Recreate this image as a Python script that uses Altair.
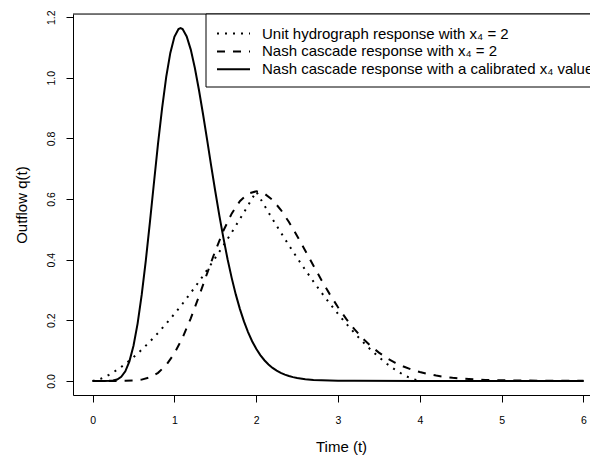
import altair as alt
import pandas as pd

FONT = "Liberation Sans"

# ---- data -------------------------------------------------------------
t_uh = [0.0, 0.1, 0.2, 0.3, 0.4, 0.5, 0.6, 0.7, 0.8, 0.9, 1.0,
        1.1, 1.2, 1.3, 1.4, 1.5, 1.6, 1.7, 1.8, 1.9, 2.0,
        2.1, 2.2, 2.3, 2.4, 2.5, 2.6, 2.7, 2.8, 2.9, 3.0,
        3.1, 3.2, 3.3, 3.4, 3.5, 3.6, 3.7, 3.8, 3.9, 4.0, 5.0, 6.0]
q_uh = [0.0, 0.0070, 0.0198, 0.0363, 0.0559, 0.0781, 0.1027, 0.1294, 0.1581, 0.1887, 0.2210,
        0.2549, 0.2905, 0.3275, 0.3660, 0.4059, 0.4472, 0.4898, 0.5336, 0.5787, 0.6250,
        0.5787, 0.5336, 0.4898, 0.4472, 0.4059, 0.3660, 0.3275, 0.2905, 0.2549, 0.2210,
        0.1887, 0.1581, 0.1294, 0.1027, 0.0781, 0.0559, 0.0363, 0.0198, 0.0070, 0.0, 0.0, 0.0]

t_nash = [0.0, 0.1, 0.2, 0.3, 0.4, 0.5, 0.6, 0.7, 0.8, 0.9, 1.0,
          1.1, 1.2, 1.3, 1.4, 1.5, 1.6, 1.7, 1.8, 1.9, 2.0,
          2.1, 2.2, 2.3, 2.4, 2.5, 2.6, 2.7, 2.8, 2.9, 3.0,
          3.1, 3.2, 3.3, 3.4, 3.5, 3.6, 3.7, 3.8, 3.9, 4.0,
          4.1, 4.2, 4.3, 4.4, 4.5, 4.6, 4.7, 4.8, 4.9, 5.0, 5.5, 6.0]
q_nash = [0.0, 0.0, 0.0, 0.0, 0.0002, 0.0011, 0.0041, 0.0115, 0.0265, 0.0521, 0.0907,
          0.1426, 0.2065, 0.2789, 0.3549, 0.4292, 0.4963, 0.5519, 0.5929, 0.6175, 0.6256,
          0.6180, 0.5969, 0.5647, 0.5242, 0.4782, 0.4294, 0.3798, 0.3314, 0.2855, 0.2431,
          0.2046, 0.1705, 0.1406, 0.1150, 0.0932, 0.0749, 0.0598, 0.0473, 0.0372, 0.0291,
          0.0226, 0.0174, 0.0134, 0.0102, 0.0078, 0.0059, 0.0044, 0.0033, 0.0025, 0.0018,
          0.0004, 0.0001]

t_cal = [0.0, 0.05, 0.10, 0.15, 0.20, 0.25, 0.30, 0.35, 0.40, 0.45, 0.50,
         0.55, 0.60, 0.65, 0.70, 0.75, 0.80, 0.85, 0.90, 0.95, 1.00,
         1.05, 1.075, 1.10, 1.15, 1.20, 1.25, 1.30, 1.35, 1.40, 1.45, 1.50,
         1.55, 1.60, 1.65, 1.70, 1.75, 1.80, 1.85, 1.90, 1.95, 2.00,
         2.05, 2.10, 2.15, 2.20, 2.25, 2.30, 2.35, 2.40, 2.45, 2.50,
         2.6, 2.7, 2.8, 2.9, 3.0, 3.2, 4.0, 5.0, 6.0]
q_cal = [0.0, 0.0, 0.0, 0.0, 0.0002, 0.0012, 0.0045, 0.0132, 0.0316, 0.0644, 0.1160,
         0.1890, 0.2834, 0.3962, 0.5221, 0.6538, 0.7835, 0.9012, 1.0030, 1.0822, 1.1354,
         1.1607, 1.1640, 1.1607, 1.1366, 1.0931, 1.0325, 0.9598, 0.8798, 0.7953, 0.7089, 0.6250,
         0.5444, 0.4700, 0.4013, 0.3399, 0.2854, 0.2376, 0.1963, 0.1609, 0.1309, 0.1059,
         0.0852, 0.0681, 0.0541, 0.0428, 0.0336, 0.0263, 0.0205, 0.0159, 0.0123, 0.0094,
         0.0055, 0.0032, 0.0018, 0.0010, 0.0005, 0.0001, 0.0, 0.0, 0.0]

x_ticks = [0, 1, 2, 3, 4, 5, 6]
y_ticks = [0.0, 0.2, 0.4, 0.6, 0.8, 1.0, 1.2]

legend_labels = [
    "Unit hydrograph response with x\u2084 = 2",
    "Nash cascade response with x\u2084 = 2",
    "Nash cascade response with a calibrated x\u2084 value",
]

W, H = 517, 381

# ---- encodings --------------------------------------------------------
x_enc = alt.X(
    "t:Q",
    scale=alt.Scale(domain=[-0.2396, 6.08], nice=False, zero=False),
    axis=alt.Axis(
        values=x_ticks, format="d", title="Time (t)", grid=False,
        domain=True, domainColor="black", domainWidth=1,
        tickSize=7, tickColor="black", tickWidth=1,
        labelFont=FONT, labelFontSize=10.5, labelColor="black",
        labelBaseline="alphabetic", labelPadding=21.5, labelFlush=False,
        labelOverlap=False,
        titleFont=FONT, titleFontSize=15, titleFontWeight="normal", titleColor="black",
        titleX=268, titleY=56, titleAlign="center", titleBaseline="alphabetic",
    ),
)
y_enc = alt.Y(
    "q:Q",
    scale=alt.Scale(domain=[-0.0466, 1.2106], nice=False, zero=False),
    axis=alt.Axis(
        values=y_ticks, format=".1f", title="Outflow q(t)", grid=False,
        domain=True, domainColor="black", domainWidth=1,
        tickSize=7, tickColor="black", tickWidth=1,
        labelFont=FONT, labelFontSize=10.5, labelColor="black",
        labelAngle=270, labelAlign="center", labelBaseline="alphabetic",
        labelPadding=11.5, labelFlush=False, labelOverlap=False,
        titleFont=FONT, titleFontSize=15, titleFontWeight="normal", titleColor="black",
        titleAngle=270, titleX=-47, titleY=190.6, titleAlign="center",
        titleBaseline="alphabetic",
    ),
)

uh = alt.Chart(pd.DataFrame({"t": t_uh, "q": q_uh})).mark_line(
    color="black", strokeWidth=2, strokeDash=[2, 6]
).encode(x=x_enc, y=y_enc)

nash = alt.Chart(pd.DataFrame({"t": t_nash, "q": q_nash})).mark_line(
    color="black", strokeWidth=2, strokeDash=[8, 8]
).encode(x=x_enc, y=y_enc)

cal = alt.Chart(pd.DataFrame({"t": t_cal, "q": q_cal})).mark_line(
    color="black", strokeWidth=2
).encode(x=x_enc, y=y_enc)

one = alt.Data(values=[{}])

# top edge of the plot box (the right edge lies off the page)
top_edge = alt.Chart(one).mark_rule(color="black", strokeWidth=1).encode(
    x=alt.value(0), x2=alt.value(W + 20), y=alt.value(0)
)

# ---- hand-made legend box (top right, running off the page) ----------
legend_layers = [
    alt.Chart(one).mark_rect(fill="white", stroke="black", strokeWidth=1).encode(
        x=alt.value(133), x2=alt.value(W + 60), y=alt.value(0), y2=alt.value(73)
    )
]
row_y = [19.5, 37.4, 55.3]
dashes = [[2, 6], [8, 8], None]
for lab, ry, dsh in zip(legend_labels, row_y, dashes):
    rule_kw = dict(color="black", strokeWidth=2)
    if dsh is not None:
        rule_kw["strokeDash"] = dsh
    legend_layers.append(
        alt.Chart(one).mark_rule(**rule_kw).encode(
            x=alt.value(144), x2=alt.value(177), y=alt.value(ry)
        )
    )
    legend_layers.append(
        alt.Chart(one).mark_text(
            text=lab, align="left", baseline="middle", font=FONT, fontSize=15, color="black"
        ).encode(x=alt.value(189), y=alt.value(ry))
    )

chart = alt.layer(uh, nash, cal, top_edge, *legend_layers).properties(
    width=W,
    height=H,
    autosize=alt.AutoSizeParams(type="none"),
    padding={"left": 65, "top": 6, "right": 0, "bottom": 60},
).configure_view(strokeWidth=0, fill="white").configure(background="white")

chart.save("out.html", embed_options={"renderer": "svg", "actions": False})
